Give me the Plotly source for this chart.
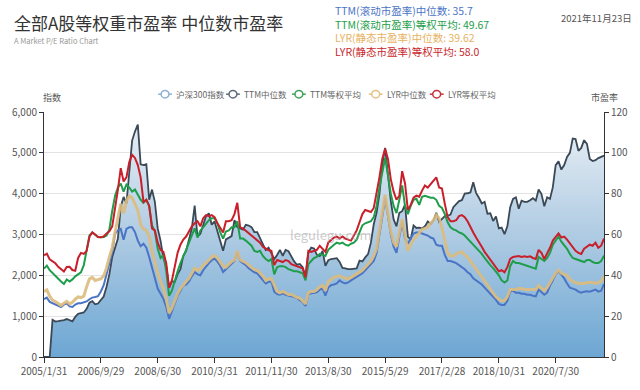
import plotly.graph_objects as go

# ---------------- data ----------------
tick_labels = ["2005/1/31", "2006/9/29", "2008/6/30", "2010/3/31", "2011/11/30",
               "2013/8/30", "2015/5/29", "2017/2/28", "2018/10/31", "2020/7/30"]
tick_index = [0, 20, 40, 60, 80, 100, 120, 140, 160, 180]

hs300 = [
    0, 0, 0, 910, 870, 880, 885, 905, 930, 905,
    875, 985, 1060, 1075, 1090, 1180, 1330, 1370, 1290, 1310,
    1400, 1480, 1720, 2030, 2450, 2660, 2900, 3680, 3920, 3760,
    4470, 5300, 5520, 5690, 4720, 4700, 4720, 3850, 4100, 3800,
    3150, 2850, 2420, 2230, 1700, 1860, 1840, 2030, 2150, 2480,
    2600, 2850, 3150, 3710, 2950, 3020, 3250, 3450, 3520, 3240,
    3320, 3080, 2850, 2600, 2880, 2920, 2960, 3350, 3180, 3150,
    3120, 3240, 3220, 3180, 3060, 3060, 2900, 2780, 2620, 2680,
    2540, 2400, 2500, 2620, 2480, 2620, 2590, 2450, 2340, 2260,
    2280, 2200, 1980, 2560, 2680, 2660, 2500, 2470, 2600, 2230,
    2370, 2400, 2410, 2420, 2330, 2180, 2170, 2150, 2150, 2160,
    2170, 2360, 2340, 2440, 2520, 2800, 3250, 3530, 3990, 4700,
    5120, 4470, 3820, 3370, 3200, 3530, 3570, 3730, 2950, 2880,
    3220, 3160, 3170, 3150, 3200, 3320, 3260, 3340, 3530, 3310,
    3390, 3450, 3460, 3490, 3670, 3740, 3820, 3840, 4000, 4010,
    4030, 4280, 4020, 3900, 3760, 3800, 3510, 3520, 3330, 3440,
    3150, 3170, 3010, 3200, 3670, 3870, 3910, 3630, 3830, 3800,
    3800, 3840, 3890, 3830, 4100, 3990, 3690, 3910, 3870, 4160,
    4700, 4790, 4590, 4700, 4900, 5000, 5350, 5340, 5050, 5120,
    5310, 5220, 4850, 4800, 4820, 4870, 4910, 4930]

ttm_median = [
    28.3, 29.1, 27.0, 26.3, 26.0, 25.2, 24.5, 25.6, 26.3, 24.8,
    24.5, 25.7, 26.3, 26.3, 26.8, 27.2, 28.3, 29.1, 29.4, 29.8,
    32.1, 35.2, 40.5, 46.7, 51.3, 60.4, 62.0, 62.7, 57.4, 62.7,
    63.5, 63.5, 61.2, 57.0, 54.3, 55.5, 53.5, 49.0, 43.6, 38.3,
    33.5, 31.0, 28.5, 24.5, 18.7, 22.5, 26.5, 30.0, 32.5, 35.0,
    35.5, 37.0, 39.5, 41.6, 40.5, 40.0, 42.5, 44.5, 46.0, 47.4,
    48.2, 46.7, 44.7, 41.6, 43.0, 44.5, 46.0, 47.0, 51.5, 47.0,
    46.0, 45.0, 43.5, 42.5, 41.5, 41.0, 39.5, 38.0, 36.0, 36.8,
    37.0, 32.0, 30.8, 30.5, 31.2, 30.5, 30.2, 29.8, 29.4, 28.8,
    27.8, 26.8, 25.0, 30.5, 31.3, 31.3, 31.8, 33.0, 33.5, 30.0,
    34.0, 35.2, 35.5, 36.0, 37.5, 36.5, 36.0, 36.5, 37.5, 38.3,
    39.0, 40.0, 41.0, 42.5, 44.0, 45.5, 47.0, 51.0, 60.0, 69.0,
    77.5, 69.0, 60.0, 54.0, 51.0, 59.0, 66.0, 58.0, 55.5, 58.0,
    60.5, 61.0, 61.0, 60.5, 60.0, 59.5, 58.5, 58.0, 55.0, 54.5,
    54.5, 50.0, 47.0, 47.0, 46.5, 46.0, 45.0, 44.0, 43.0, 41.5,
    40.5, 38.5, 37.5, 36.5, 35.5, 34.0, 32.5, 31.0, 30.0, 28.0,
    26.0, 25.5, 25.5, 27.5, 32.0, 32.5, 31.5, 31.5, 31.0, 31.0,
    30.5, 30.5, 30.0, 29.7, 33.0, 31.5, 30.5, 31.5, 35.0, 37.5,
    40.5, 42.0, 40.5, 38.5, 36.0, 34.0, 33.5, 33.0, 32.0, 31.5,
    32.0, 32.2, 32.0, 32.5, 33.0, 32.0, 32.5, 35.7]

ttm_equal = [
    43.3, 44.8, 42.5, 41.0, 39.5, 38.5, 37.0, 35.8, 38.0, 37.0,
    38.0, 39.5, 40.3, 41.5, 45.0, 52.0, 59.5, 61.0, 59.8, 58.7,
    58.6, 58.8, 59.5, 62.5, 71.5, 79.0, 83.0, 85.0, 81.0, 84.5,
    83.0, 81.0, 82.0, 79.5, 77.0, 75.5, 77.0, 74.0, 64.5, 61.5,
    53.0, 48.5, 50.0, 42.0, 30.0, 32.5, 37.5, 42.0, 46.0, 49.0,
    52.5, 56.0, 59.5, 63.0, 58.5, 62.0, 63.5, 65.5, 67.0, 68.0,
    68.0, 65.5, 61.0, 58.0, 61.5, 62.0, 63.5, 63.5, 66.5, 58.0,
    58.0, 57.0, 55.5, 54.5, 52.0, 51.5, 52.0, 49.5, 48.0, 47.0,
    48.0, 40.5, 44.0, 44.5, 44.5, 44.0, 43.0, 42.5, 42.0, 42.0,
    41.5, 41.0, 37.5, 45.5, 47.0, 48.5, 49.0, 50.5, 50.0, 49.5,
    52.5, 54.0, 55.0, 56.0, 55.5, 56.0, 55.0, 54.5, 55.5, 56.0,
    57.5, 61.0, 64.5, 65.5, 66.0, 66.5, 68.5, 74.0, 83.0, 91.0,
    97.5, 89.0, 80.0, 74.0, 70.5, 77.0, 84.0, 74.0, 70.0, 74.0,
    77.0, 77.5, 74.5, 78.5, 79.0, 78.5, 78.0, 78.0, 77.0, 74.0,
    73.0, 70.0, 66.0, 63.5, 62.5, 62.0, 61.0, 60.5, 59.5, 58.0,
    56.5, 55.0, 53.5, 52.5, 50.5, 48.5, 46.5, 45.0, 43.5, 42.0,
    40.0, 37.5, 36.5, 37.5, 44.5, 47.0, 46.0, 46.0, 45.5, 45.0,
    44.8, 44.3, 43.8, 43.3, 49.0, 48.0, 47.0, 48.5, 51.0, 55.0,
    57.0, 59.0, 56.5, 55.0, 53.0, 50.5, 48.5, 48.0, 47.5, 47.0,
    46.5, 47.5, 47.5, 46.5, 46.0, 46.0, 47.0, 49.67]

lyr_median = [
    32.1, 32.9, 29.8, 27.8, 27.2, 26.0, 25.2, 26.3, 27.2, 26.0,
    26.8, 28.3, 29.4, 29.1, 29.8, 34.4, 38.3, 39.0, 37.5, 37.9,
    38.3, 39.8, 43.6, 49.0, 53.6, 61.2, 67.3, 75.0, 70.4, 76.5,
    78.8, 78.0, 75.0, 71.9, 65.0, 62.7, 62.0, 58.9, 52.0, 45.9,
    41.0, 37.0, 33.5, 28.5, 21.5, 24.0, 27.5, 31.0, 33.5, 35.5,
    37.0, 38.5, 41.0, 43.5, 42.5, 43.0, 45.0, 46.0, 47.5, 49.0,
    49.7, 48.5, 46.5, 44.5, 44.0, 45.5, 46.7, 47.5, 52.0, 47.5,
    47.0, 46.2, 45.0, 44.0, 42.8, 42.5, 41.3, 39.8, 37.5, 38.3,
    38.3, 35.0, 32.1, 31.4, 32.1, 31.4, 30.6, 30.6, 29.8, 29.1,
    28.8, 27.5, 26.0, 31.4, 32.1, 32.1, 32.9, 34.4, 35.0, 32.5,
    37.0, 38.0, 39.0, 39.5, 39.8, 39.0, 38.5, 38.3, 39.0, 39.8,
    40.5, 41.5, 42.5, 44.0, 45.5, 47.0, 49.5, 53.0, 62.0, 70.5,
    79.5, 70.5, 61.5, 56.0, 54.0, 61.0, 67.5, 60.0, 52.0, 55.0,
    57.5, 59.0, 61.0, 62.5, 63.0, 63.5, 65.5, 67.0, 69.5, 68.0,
    63.0, 57.0, 51.0, 49.5, 49.5, 50.5, 51.0, 51.5, 50.0, 49.0,
    47.0, 45.0, 43.0, 41.0, 39.5, 37.5, 35.5, 33.5, 31.5, 29.5,
    28.3, 27.5, 27.5, 29.5, 33.0, 33.0, 33.0, 33.5, 33.5, 33.0,
    33.0, 33.0, 33.0, 33.0, 35.0, 33.5, 32.5, 34.0, 36.5, 39.0,
    41.0, 42.5, 41.0, 40.5, 40.0, 38.0, 37.0, 36.5, 36.0, 36.0,
    36.0, 36.5, 36.5, 36.5, 36.0, 36.5, 37.0, 39.62]

lyr_equal = [
    49.8, 50.6, 47.8, 46.9, 45.9, 44.2, 43.0, 41.9, 44.1, 44.2,
    42.6, 42.2, 48.5, 51.0, 50.5, 52.0, 59.0, 61.0, 60.0, 58.8,
    58.7, 59.0, 60.5, 61.5, 64.0, 72.0, 82.0, 92.5, 86.0, 88.0,
    95.5, 99.0, 97.5, 94.0, 88.0, 76.0, 77.0, 74.0, 63.0, 62.0,
    56.0, 52.5, 51.5, 46.0, 34.0, 37.5, 45.0, 51.0, 55.0, 57.5,
    59.0, 61.5, 64.0, 65.5, 66.5, 64.0, 68.0, 69.5, 69.0, 69.5,
    68.5, 65.5, 63.0, 61.0, 66.5, 66.5, 67.0, 70.0, 75.5, 63.5,
    63.0, 61.8, 60.5, 59.5, 58.5, 57.0, 56.0, 54.0, 53.0, 52.3,
    52.0, 45.0, 47.5, 47.0, 46.5, 47.5, 47.0, 45.5, 45.0, 44.5,
    44.0, 43.5, 39.0, 52.0, 51.5, 52.0, 52.5, 54.5, 53.0, 51.5,
    56.0, 57.5, 58.5, 59.0, 58.0, 59.0, 58.0, 57.5, 57.0, 59.5,
    62.0, 66.0, 70.0, 72.0, 71.5, 71.0, 73.0, 80.0, 88.0, 97.0,
    102.0, 97.0, 87.0, 81.0, 77.0, 79.0, 91.0, 85.0, 72.0, 74.5,
    78.0, 79.0, 78.5, 81.5, 84.0, 83.0, 84.5, 86.0, 88.0, 83.0,
    82.5, 75.0, 68.5, 66.5, 66.5, 67.0, 69.0, 69.5, 68.5, 66.5,
    63.5, 61.0, 58.5, 56.5, 54.0, 51.5, 49.5, 47.5, 45.5, 44.0,
    42.0, 42.5, 41.5, 44.0, 48.0, 49.0, 49.3, 49.5, 49.0, 49.3,
    49.0, 49.3, 48.5, 48.0, 52.5, 51.0, 48.0, 50.5, 53.5, 57.0,
    58.5, 60.5, 58.5, 59.0, 57.5, 55.5, 53.5, 52.0, 51.0, 50.5,
    53.0, 54.0, 55.0, 54.5, 56.0, 53.5, 54.5, 58.0]

series_names = ["沪深300指数", "TTM中位数", "TTM等权平均", "LYR中位数", "LYR等权平均"]
header_lines = ["TTM(滚动市盈率)中位数: 35.7", "TTM(滚动市盈率)等权平均: 49.67",
                "LYR(静态市盈率)中位数: 39.62", "LYR(静态市盈率)等权平均: 58.0"]

for s in (hs300, ttm_median, ttm_equal, lyr_median, lyr_equal):
    assert len(s) == 198, len(s)

x = list(range(len(hs300)))

# ---------------- styling ----------------
W, H = 640, 390
L, R, T, B = 38, 33, 112, 17
PW, PH = W - L - R, H - T - B
FONT = "Noto Sans CJK SC, Noto Sans, sans-serif"

C_DARK = "#3b4856"
C_BLUE = "#4a74c6"
C_GREEN = "#1e9e4a"
C_TAN = "#dcbc7e"
C_RED = "#c91f2b"


def px(v):
    return (v - L) / PW


def py(v):
    return (H - B - v) / PH


fig = go.Figure()

fig.add_trace(go.Scatter(
    x=x, y=hs300, name=series_names[0], mode="lines", yaxis="y",
    line=dict(color=C_DARK, width=1.8),
    fill="tozeroy",
    fillgradient=dict(type="vertical", start=0, stop=6000,
                      colorscale=[[0, "#64a2d1"], [0.5, "#abc9e2"], [1, "#eef2f6"]]),
    showlegend=False))
fig.add_trace(go.Scatter(x=x, y=ttm_median, name=series_names[1], mode="lines", yaxis="y2",
                         line=dict(color=C_BLUE, width=2), showlegend=False))
fig.add_trace(go.Scatter(x=x, y=ttm_equal, name=series_names[2], mode="lines", yaxis="y2",
                         line=dict(color=C_GREEN, width=2), showlegend=False))
fig.add_trace(go.Scatter(x=x, y=lyr_median, name=series_names[3], mode="lines", yaxis="y2",
                         line=dict(color=C_TAN, width=3), opacity=0.9, showlegend=False))
fig.add_trace(go.Scatter(x=x, y=lyr_equal, name=series_names[4], mode="lines", yaxis="y2",
                         line=dict(color=C_RED, width=2), showlegend=False))

annotations = []
shapes = []

# title block
annotations.append(dict(text="全部A股等权重市盈率 中位数市盈率", x=px(5), y=py(16.5), xref="paper", yref="paper",
                        xanchor="left", yanchor="middle", showarrow=False,
                        font=dict(family=FONT, size=17, color="#333333")))
annotations.append(dict(text="A Market P/E Ratio Chart", x=px(5), y=py(36), xref="paper", yref="paper",
                        xanchor="left", yanchor="middle", showarrow=False,
                        font=dict(family=FONT, size=7.5, color="#999999")))

# header block: one multi-line text, each line in its series colour
header_colors = [C_BLUE, C_GREEN, "#e8b25f", C_RED]
header_text = "<br>".join('<span style="color:%s">%s</span>' % (c, t)
                          for t, c in zip(header_lines, header_colors))
annotations.append(dict(text=header_text, x=px(332), y=py(25.5), xref="paper", yref="paper",
                        xanchor="left", yanchor="middle", align="left", showarrow=False,
                        font=dict(family=FONT, size=10.5, color=C_BLUE)))
annotations.append(dict(text="2021年11月23日", x=px(637), y=py(11.5), xref="paper", yref="paper",
                        xanchor="right", yanchor="middle", showarrow=False,
                        font=dict(family=FONT, size=9.5, color="#555555")))
# axis names
annotations.append(dict(text="指数", x=px(35), y=py(97), xref="paper", yref="paper",
                        xanchor="left", yanchor="middle", showarrow=False,
                        font=dict(family=FONT, size=9, color="#555555")))
annotations.append(dict(text="市盈率", x=px(592), y=py(97), xref="paper", yref="paper",
                        xanchor="left", yanchor="middle", showarrow=False,
                        font=dict(family=FONT, size=9, color="#555555")))
# watermark
annotations.append(dict(text="legulegu.com", x=px(330), y=py(243), xref="paper", yref="paper",
                        xanchor="center", yanchor="middle", showarrow=False,
                        font=dict(family=FONT, size=13, color="rgba(160,160,160,0.55)")))

# legend (drawn manually to mimic the compact icons)
legend_icon_colors = ["#8fb0d4", "#5d6b7d", "#3aa357", "#e2c282", "#c5303a"]
legend_icon_x = [161, 230, 297, 375, 437]
legend_y = 93
for name, c, cx in zip(series_names, legend_icon_colors, legend_icon_x):
    shapes.append(dict(type="line", xref="paper", yref="paper",
                       x0=px(cx - 7), x1=px(cx + 7), y0=py(legend_y), y1=py(legend_y),
                       line=dict(color=c, width=1.5)))
    shapes.append(dict(type="circle", xref="paper", yref="paper",
                       x0=px(cx - 4), x1=px(cx + 4), y0=py(legend_y + 4), y1=py(legend_y - 4),
                       line=dict(color=c, width=1.5), fillcolor="white"))
    annotations.append(dict(text=name, x=px(cx + 9), y=py(legend_y), xref="paper", yref="paper",
                            xanchor="left", yanchor="middle", showarrow=False,
                            font=dict(family=FONT, size=8.5, color="#666666")))

axis_font = dict(family=FONT, size=10, color="#555555")
fig.update_layout(
    width=W, height=H,
    margin=dict(l=L, r=R, t=T, b=B, pad=0),
    paper_bgcolor="white", plot_bgcolor="white",
    showlegend=False,
    xaxis=dict(range=[0, len(x) - 1], tickvals=tick_index, ticktext=tick_labels,
               showline=True, linecolor="#333333", linewidth=1, ticks="outside", ticklen=5,
               tickcolor="#333333", showgrid=False, zeroline=False, tickfont=axis_font),
    yaxis=dict(range=[0, 6000], tickvals=[0, 1000, 2000, 3000, 4000, 5000, 6000], tickformat=",",
               showline=True, linecolor="#333333", linewidth=1, ticks="outside", ticklen=4,
               tickcolor="#333333", gridcolor="#e3e3e3", gridwidth=1, zeroline=False,
               tickfont=axis_font),
    yaxis2=dict(range=[0, 120], tickvals=[0, 20, 40, 60, 80, 100, 120], overlaying="y", side="right",
                showline=True, linecolor="#333333", linewidth=1, ticks="outside", ticklen=4,
                tickcolor="#333333", showgrid=False, zeroline=False, tickfont=axis_font),
    annotations=annotations,
    shapes=shapes,
)

fig.write_html("out.html")
